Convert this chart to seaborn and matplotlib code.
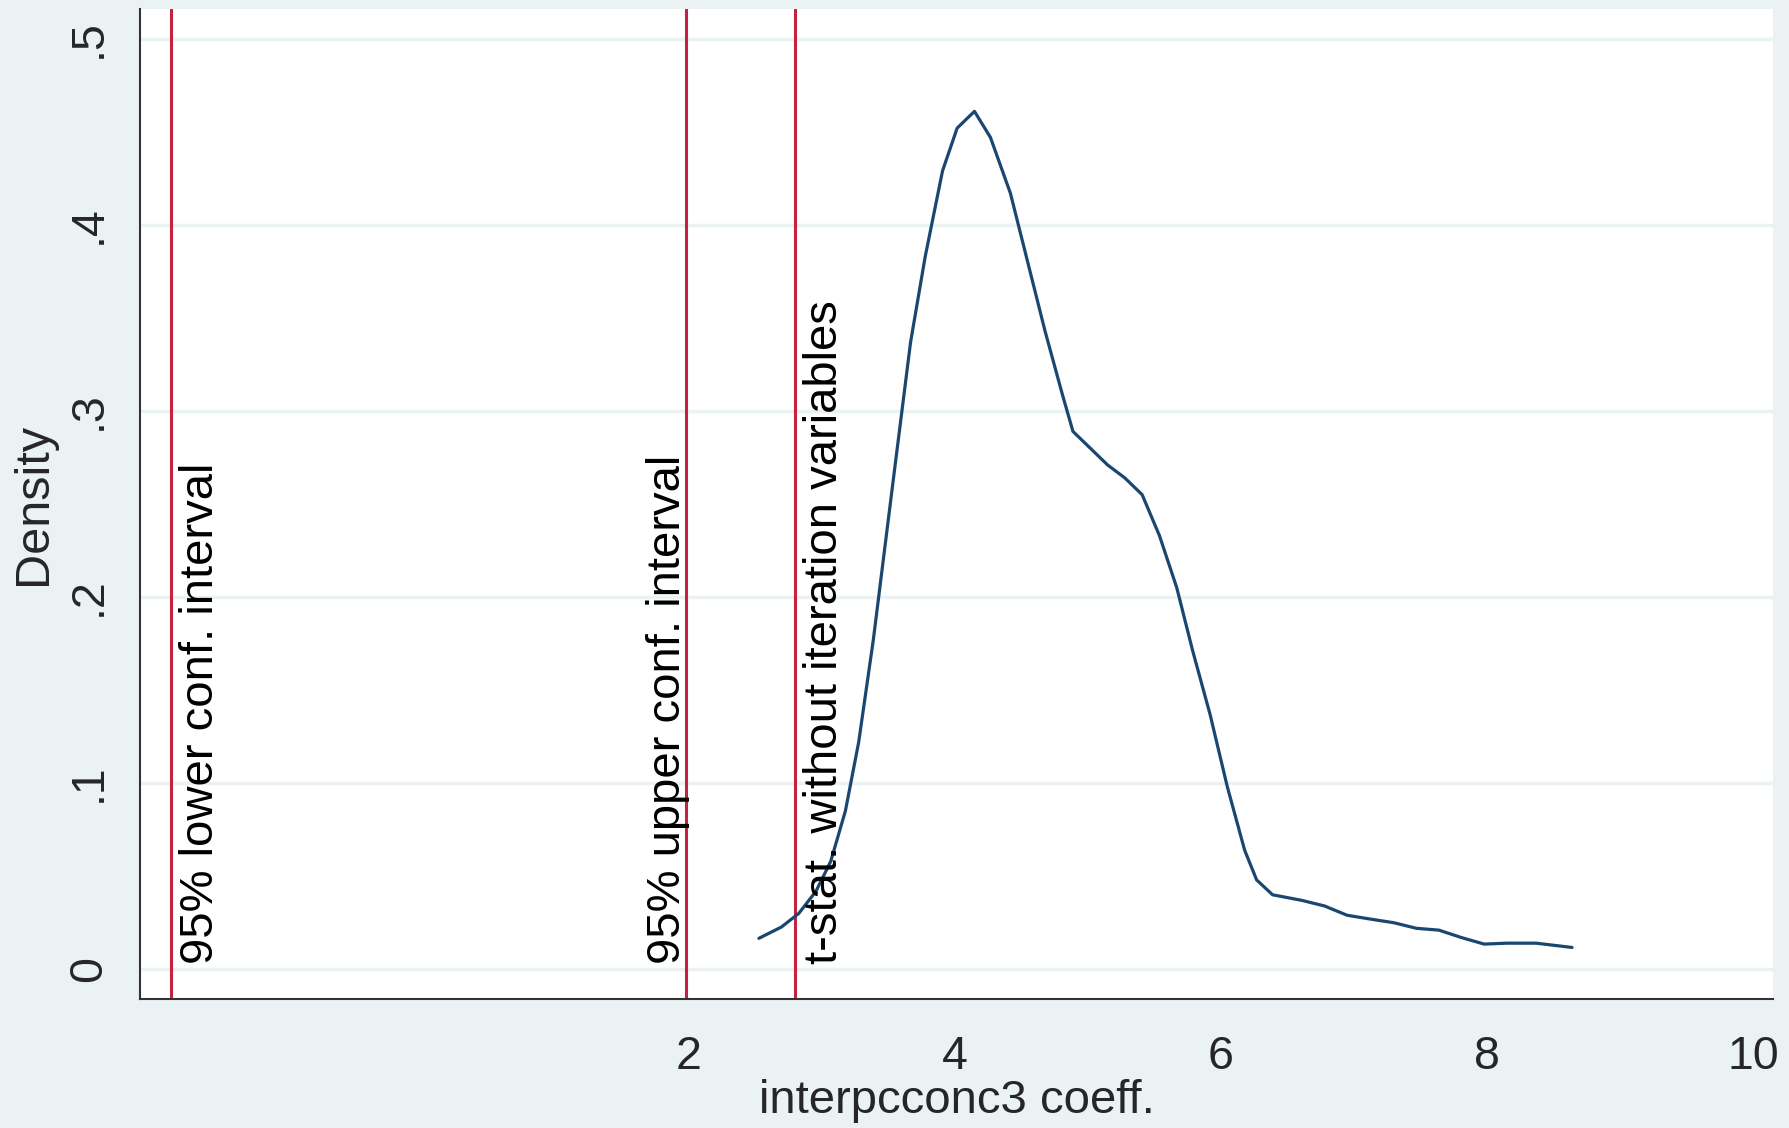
import seaborn as sns
import matplotlib.pyplot as plt
import pandas as pd

# kernel density of the coefficient
coef = [2.53, 2.70, 2.83, 2.96, 3.07, 3.18, 3.28, 3.39, 3.54, 3.67, 3.78, 3.91, 4.02,
        4.15, 4.27, 4.42, 4.55, 4.68, 4.81, 4.89, 5.02, 5.15, 5.28, 5.41, 5.54, 5.67,
        5.79, 5.92, 6.05, 6.18, 6.27, 6.39, 6.61, 6.78, 6.95, 7.12, 7.30, 7.47, 7.64,
        7.81, 7.98, 8.15, 8.37, 8.64]
density = [0.0166, 0.0227, 0.030, 0.042, 0.058, 0.085, 0.122, 0.177, 0.263, 0.337,
           0.383, 0.429, 0.452, 0.461, 0.447, 0.417, 0.380, 0.343, 0.309, 0.289,
           0.280, 0.271, 0.264, 0.255, 0.233, 0.205, 0.171, 0.137, 0.098, 0.064,
           0.048, 0.040, 0.037, 0.034, 0.029, 0.027, 0.025, 0.022, 0.021, 0.017,
           0.0135, 0.014, 0.014, 0.0117]

ref_x = [-1.89, 1.98, 2.80]
ref_labels = ["95% lower conf. interval", "95% upper conf. interval",
              "t-stat. without iteration variables"]
# which side of the line each label sits on
ref_side = ["right", "left", "right"]

xticks = [2, 4, 6, 8, 10]
yticks = [0, 0.1, 0.2, 0.3, 0.4, 0.5]
ytick_labels = ["0", ".1", ".2", ".3", ".4", ".5"]

df = pd.DataFrame({"coef": coef, "density": density})

bg = "#EAF2F3"
sns.set_style("white")
plt.rcParams["font.family"] = ["Liberation Sans", "DejaVu Sans"]

fig = plt.figure(figsize=(17.9, 11.28), dpi=100, facecolor=bg)
ax = fig.add_axes([140 / 1790, 129 / 1128, 1633 / 1790, 990 / 1128])
ax.set_facecolor("white")

for y in yticks:
    ax.axhline(y, color=bg, lw=2.5, zorder=0)

sns.lineplot(data=df, x="coef", y="density", ax=ax, color="#1a476f", lw=2.3, zorder=3)

for x, lab, side in zip(ref_x, ref_labels, ref_side):
    ax.axvline(x, color="#C8203F", lw=2.2, zorder=2)
    if side == "right":
        ax.text(x + 0.06, 0.003, lab, rotation=90, ha="left", va="bottom",
                fontsize=34, color="black", zorder=4)
    else:
        ax.text(x + 0.03, 0.003, lab, rotation=90, ha="right", va="bottom",
                fontsize=34, color="black", zorder=4)

ax.set_xlim(-2.12, 10.15)
ax.set_ylim(-0.016, 0.516)
ax.set_xticks(xticks)
ax.set_xticklabels([str(t) for t in xticks])
ax.set_yticks(yticks)
ax.set_yticklabels(ytick_labels, rotation=90, va="center")
ax.tick_params(axis="x", length=12, width=1.5, pad=14, labelsize=33.5, color="#333333")
ax.tick_params(axis="y", length=9, width=1.5, pad=12, labelsize=33.5, color="#333333")

for side in ["top", "right"]:
    ax.spines[side].set_visible(False)
for side in ["left", "bottom"]:
    ax.spines[side].set_color("#333333")
    ax.spines[side].set_linewidth(1.5)

ax.set_xlabel("interpcconc3 coeff.", fontsize=34, labelpad=0)
ax.set_ylabel("Density", fontsize=35, labelpad=8)

fig.savefig("out.png", dpi=100, facecolor=bg)
